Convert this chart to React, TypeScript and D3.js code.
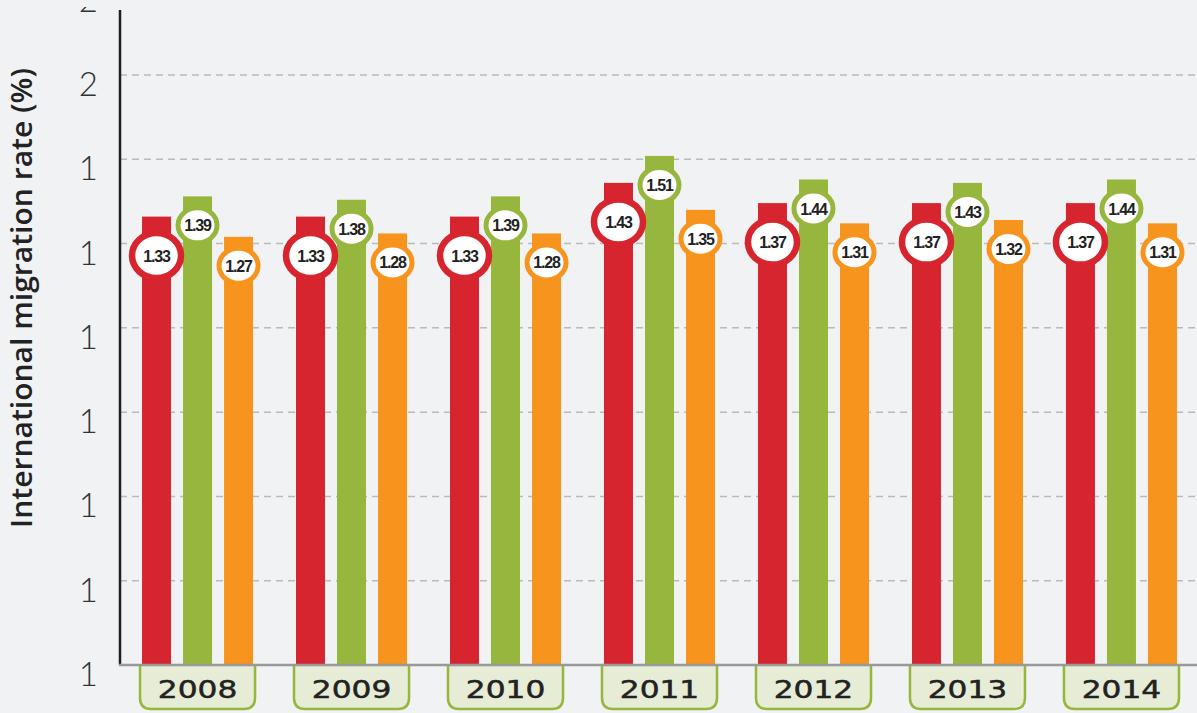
import React from "react";
import { scaleBand, scaleLinear } from "d3";

// Grouped bar chart with value badges
const years = ["2008", "2009", "2010", "2011", "2012", "2013", "2014"];
const seriesNames = ["red", "green", "orange"];
const redValues = [1.33, 1.33, 1.33, 1.43, 1.37, 1.37, 1.37];
const greenValues = [1.39, 1.38, 1.39, 1.51, 1.44, 1.43, 1.44];
const orangeValues = [1.27, 1.28, 1.28, 1.35, 1.31, 1.32, 1.31];
const tickValues = [0, 0.25, 0.5, 0.75, 1, 1.25, 1.5, 1.75, 2];
const tickLabels = ["1", "1", "1", "1", "1", "1", "1", "2", "2"];

const colors = ["#d7252f", "#97b63d", "#f7941e"];

export default function App() {
  const width = 1197;
  const height = 713;
  const axisX = 120;
  const baseY = 665;

  const y = scaleLinear().domain([0, 1.75]).range([baseY, 75]);
  const x = scaleBand().domain(years).range([axisX, 1199]).paddingInner(0.279).paddingOuter(0.143);
  const xs = scaleBand().domain(seriesNames).range([0, x.bandwidth()]).paddingInner(0.293);

  const allValues = [redValues, greenValues, orangeValues];

  return (
    <div style={{ position: "fixed", left: 0, top: 0, width, height, background: "#f1f2f4" }}>
      <svg width={width} height={height} style={{ display: "block" }}>
        <defs>
          <clipPath id="tickclip">
            <rect x={0} y={7} width={axisX} height={height} />
          </clipPath>
        </defs>
        <rect width={width} height={height} fill="#f1f2f4" />
        {/* gridlines */}
        {tickValues.slice(1).map((t) => (
          <line key={"g" + t} x1={axisX} x2={width} y1={y(t)} y2={y(t)}
            stroke="#b9babc" strokeWidth={1.5} strokeDasharray="7,5" />
        ))}
        {/* tick labels */}
        <g clipPath="url(#tickclip)">
          {tickValues.map((t, i) => (
            <text key={"t" + t} x={98} y={y(t) + 21} textAnchor="end" fontSize={33}
              fontFamily="Lato, 'Liberation Sans', sans-serif" fontWeight={300} fill="#333">
              {tickLabels[i]}
            </text>
          ))}
        </g>
        <text transform={`translate(32, 298) rotate(-90)`} textAnchor="middle" fontSize={28}
          textLength={460} lengthAdjust="spacingAndGlyphs"
          fontFamily="'Open Sans', sans-serif" fontWeight={600} fill="#222">
          International migration rate (%)
        </text>
        {/* bars */}
        {years.map((yr, i) => (
          <g key={yr} transform={`translate(${x(yr)},0)`}>
            {seriesNames.map((s, j) => (
              <rect key={s} x={xs(s)} y={y(allValues[j][i])} width={xs.bandwidth()}
                height={baseY - y(allValues[j][i])} fill={colors[j]} />
            ))}
          </g>
        ))}
        {/* year boxes */}
        {years.map((yr) => {
          const x0 = (x(yr) as number) - 2;
          const w = x.bandwidth() + 4;
          const h = 44;
          const r = 11;
          const d = `M${x0},${baseY} V${baseY + h - r} Q${x0},${baseY + h} ${x0 + r},${baseY + h} H${x0 + w - r} Q${x0 + w},${baseY + h} ${x0 + w},${baseY + h - r} V${baseY}`;
          return (
            <g key={"b" + yr}>
              <path d={d} fill="#e6ecd5" stroke="#97b63d" strokeWidth={2.5} />
              <text transform={`translate(${x0 + w / 2}, ${baseY + 33}) scale(1.25,1)`} textAnchor="middle" fontSize={25}
                fontFamily="'DejaVu Sans', sans-serif" fill="#222"
                stroke="#222" strokeWidth={0.5}>
                {yr}
              </text>
            </g>
          );
        })}
        {/* axes */}
        <line x1={axisX} x2={axisX} y1={10} y2={baseY} stroke="#231f20" strokeWidth={2.5} />
        <line x1={axisX - 1} x2={width} y1={baseY} y2={baseY} stroke="#999" strokeWidth={2.5} />
        {/* value badges */}
        {years.map((yr, i) => (
          <g key={"c" + yr} transform={`translate(${x(yr)},0)`}>
            {seriesNames.map((s, j) => {
              const v = allValues[j][i];
              const cx = (xs(s) as number) + xs.bandwidth() / 2;
              const big = j === 0;
              const cy = y(v) + (big ? 39 : 29);
              return (
                <g key={s}>
                  <ellipse cx={cx} cy={cy} rx={big ? 24.5 : 19.5} ry={big ? 22.5 : 17.5}
                    fill="#fff" stroke={colors[j]} strokeWidth={big ? 6.5 : 5} />
                  <text x={cx} y={cy + 6} textAnchor="middle" fontSize={16} fontWeight="bold"
                    letterSpacing={-1.2} fontFamily="'Liberation Sans', sans-serif" fill="#222">
                    {v.toFixed(2)}
                  </text>
                </g>
              );
            })}
          </g>
        ))}
      </svg>
    </div>
  );
}
